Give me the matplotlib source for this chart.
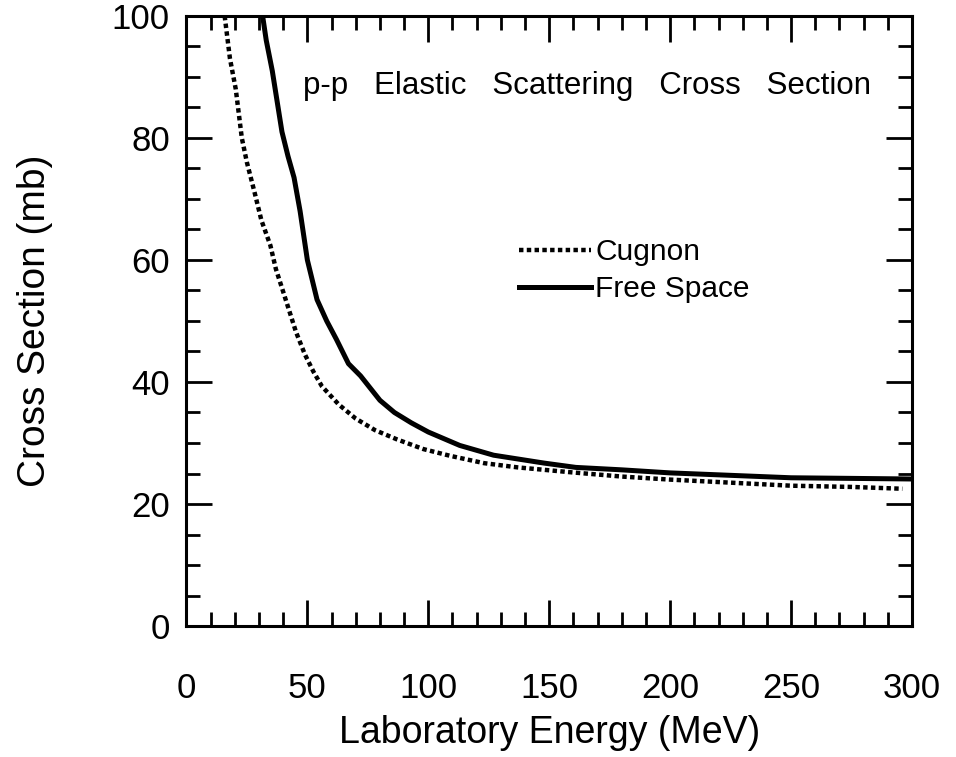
import numpy as np
import matplotlib.pyplot as plt
from matplotlib.ticker import MultipleLocator

plt.rcParams['font.family'] = ['Liberation Sans', 'DejaVu Sans']

# values (energy in MeV, cross section in mb)
cugnon_E = [15.8, 18, 20.4, 22.9, 25, 28.1, 31, 34.7, 37, 40, 45.3, 49, 52.5,
            56, 63, 70, 78, 87, 98, 109, 123, 137, 159, 180, 200, 225, 250,
            275, 296]
cugnon_sigma = [100, 93, 88, 80, 76, 71.2, 66.5, 62.4, 58.5, 54.8, 48.2, 44.5,
                41.7, 39.3, 36.3, 34, 32.1, 30.6, 29, 27.9, 26.7, 26, 25.2,
                24.5, 24.0, 23.5, 23.0, 22.8, 22.5]

free_E = [31.5, 33, 35.5, 39.5, 42, 44.5, 47, 50, 54, 58, 62, 67, 72, 80, 86,
          93, 100, 113, 127, 148, 161, 180, 200, 225, 250, 275, 300]
free_sigma = [100, 96, 91, 81, 77, 73.5, 68, 60, 53.5, 50, 47, 43, 41, 37, 35,
              33.3, 31.8, 29.6, 28, 26.7, 26, 25.6, 25.1, 24.7, 24.3, 24.2,
              24.1]

fig = plt.figure(figsize=(9.56, 7.57), dpi=100)
ax = fig.add_axes([0.195, 0.173, 0.759, 0.806])

ax.plot(cugnon_E, cugnon_sigma, color='black', lw=3.2,
        linestyle=(0, (1, 0.75)), label='Cugnon')
ax.plot(free_E, free_sigma, color='black', lw=3.6, label='Free Space')

ax.set_xlim(0, 300)
ax.set_ylim(0, 100)

# ticks inside on all sides, labels only bottom/left
ax.xaxis.set_major_locator(MultipleLocator(50))
ax.xaxis.set_minor_locator(MultipleLocator(10))
ax.yaxis.set_major_locator(MultipleLocator(20))
ax.yaxis.set_minor_locator(MultipleLocator(5))
ax.tick_params(which='both', direction='in', top=True, right=True, width=2)
ax.tick_params(which='major', length=19)
ax.tick_params(which='minor', length=10)
ax.tick_params(axis='x', which='major', labelsize=25, pad=33)
ax.tick_params(axis='y', which='major', labelsize=25, pad=12)
for s in ax.spines.values():
    s.set_linewidth(2.2)

ax.set_xlabel('Laboratory Energy (MeV)', fontsize=27, labelpad=7)
ax.set_ylabel('Cross Section (mb)', fontsize=28, labelpad=42)

ax.text(48, 88.5, 'p-p   Elastic   Scattering   Cross   Section',
        fontsize=22.5, va='center', ha='left')

ax.legend(loc='upper left', bbox_to_anchor=(0.442, 0.655), frameon=False,
          fontsize=21.5, handlelength=2.4, handletextpad=0.15,
          labelspacing=0.3, borderaxespad=0)

fig.savefig('out.png', dpi=100)
